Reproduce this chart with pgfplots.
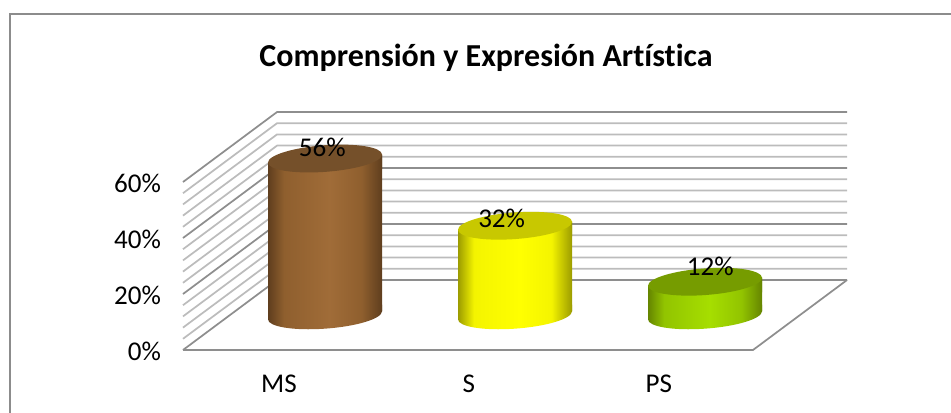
\documentclass[border=0pt]{standalone}
\usepackage{fontspec}
\setmainfont[Ligatures=NoCommon]{Carlito}
\usepackage{pgfplots}
\usepackage{pgfplotstable}
\pgfplotsset{compat=1.18}

% one drawing unit is 0.75pt
\newcommand\chartfont{\fontsize{20.3}{24}\selectfont}

\definecolor{brownD}{HTML}{5F3E1E}
\definecolor{brownM}{HTML}{8F5F2E}
\definecolor{brownL}{HTML}{A06C38}
\definecolor{brownT}{HTML}{75502A}
\definecolor{yellowD}{HTML}{9C9C00}
\definecolor{yellowM}{HTML}{F4F400}
\definecolor{yellowL}{HTML}{FFFF00}
\definecolor{yellowT}{HTML}{C8C800}
\definecolor{greenD}{HTML}{658500}
\definecolor{greenM}{HTML}{92C400}
\definecolor{greenL}{HTML}{A6DE00}
\definecolor{greenT}{HTML}{769C00}
\definecolor{wallmajor}{HTML}{8E8E8E}
\definecolor{wallminor}{HTML}{BCBCBC}

% body shadings: the part between 25bp and 75bp spans the width of the column
\pgfdeclarehorizontalshading{brownbody}{100bp}{
  color(0bp)=(brownD); color(25bp)=(brownD); color(32bp)=(brownM);
  color(52bp)=(brownL); color(66bp)=(brownM); color(75bp)=(brownD); color(100bp)=(brownD)}
\pgfdeclarehorizontalshading{yellowbody}{100bp}{
  color(0bp)=(yellowD); color(25bp)=(yellowD); color(32bp)=(yellowM);
  color(52bp)=(yellowL); color(66bp)=(yellowM); color(75bp)=(yellowD); color(100bp)=(yellowD)}
\pgfdeclarehorizontalshading{greenbody}{100bp}{
  color(0bp)=(greenD); color(25bp)=(greenD); color(32bp)=(greenM);
  color(52bp)=(greenL); color(66bp)=(greenM); color(75bp)=(greenD); color(100bp)=(greenD)}

% end caps of a column; the ellipse rises to the right, following the view of the floor
\newcommand\declarecylinder[2]{%
  \pgfdeclareplotmark{#1base}{%
    \path[shade,shading=#1body,draw=none] (-42.75pt,8pt) -- (-42.75pt,-3pt)
      .. controls (-42.75pt,-8.52pt) and (-23.6pt,-11.65pt) .. (0pt,-10pt)
      .. controls (23.6pt,-8.35pt) and (42.75pt,-2.52pt) .. (42.75pt,3pt)
      -- (42.75pt,8pt) -- cycle;}%
  \pgfdeclareplotmark{#1top}{%
    \path[shade,shading=#1body,draw=none] (-42.75pt,-8pt) -- (-42.75pt,-3pt)
      -- (42.75pt,3pt) -- (42.75pt,-8pt) -- cycle;
    \path[fill=#2,draw=none] (-42.75pt,-3pt)
      .. controls (-42.75pt,2.52pt) and (-23.6pt,8.35pt) .. (0pt,10pt)
      .. controls (23.6pt,11.65pt) and (42.75pt,8.52pt) .. (42.75pt,3pt)
      .. controls (42.75pt,-2.52pt) and (23.6pt,-8.35pt) .. (0pt,-10pt)
      .. controls (-23.6pt,-11.65pt) and (-42.75pt,-8.52pt) .. (-42.75pt,-3pt) -- cycle;}%
}
\declarecylinder{brown}{brownT}
\declarecylinder{yellow}{yellowT}
\declarecylinder{green}{greenT}

\pgfplotstableread{
x v dx dy
0 56 -2 8.5
1 32 -10 5.5
2 12 4 11.5
}\datalabels

\begin{document}
\begin{tikzpicture}
  \useasboundingbox (0,0) rectangle (713.25pt,309pt);
  \draw[color=black!45,line width=1.1pt] (7.5pt,-1pt) -- (7.5pt,298.5pt) -- (714pt,298.5pt);
  \node[font=\fontsize{24}{28}\bfseries\selectfont] at (364.5pt,266pt) {Comprensión y Expresión Artística};

  % front plane: side wall, back wall and floor, with the axis labels
  \begin{axis}[
    at={(137.25pt,46.5pt)},anchor=south west,
    scale only axis,width=427.5pt,height=126pt,
    xmin=-0.5,xmax=2.5,ymin=0,ymax=60,clip=false,
    axis line style={draw=none},major tick length=0pt,tick style={draw=none},
    xtick={0,1,2},xticklabels={MS,S,PS},
    ytick={0,20,40,60},
    yticklabel={\pgfmathprintnumber{\tick}\%},
    /pgf/number format/assume math mode=true,
    ticklabel style={font=\chartfont},
    yticklabel style={xshift=-13pt,yshift=-0.7pt},
    xticklabel style={yshift=-15.5pt,xshift=0.7pt},
    unbounded coords=jump]
    \addplot[color=wallminor,line width=1.3pt,mark=none] table {
      -0.5 4
      -0.005 29
      2.995 29
      nan nan
      -0.5 8
      -0.005 33
      2.995 33
      nan nan
      -0.5 12
      -0.005 37
      2.995 37
      nan nan
      -0.5 16
      -0.005 41
      2.995 41
      nan nan
      -0.5 24
      -0.005 49
      2.995 49
      nan nan
      -0.5 28
      -0.005 53
      2.995 53
      nan nan
      -0.5 32
      -0.005 57
      2.995 57
      nan nan
      -0.5 36
      -0.005 61
      2.995 61
      nan nan
      -0.5 44
      -0.005 69
      2.995 69
      nan nan
      -0.5 48
      -0.005 73
      2.995 73
      nan nan
      -0.5 52
      -0.005 77
      2.995 77
      nan nan
      -0.5 56
      -0.005 81
      2.995 81
    };
    \addplot[color=wallmajor,line width=1.3pt,mark=none] table {
      -0.5 0
      -0.005 25
      2.995 25
      nan nan
      -0.5 20
      -0.005 45
      2.995 45
      nan nan
      -0.5 40
      -0.005 65
      2.995 65
      nan nan
      -0.5 60
      -0.005 85
      2.995 85
      nan nan
      -0.5 0
      2.5 0
      2.995 25
    };
  \end{axis}

  % middle plane of the floor: the columns stand here;
  % each body runs from the sloped chord at height 0 to the same chord at its value
  \begin{axis}[
    at={(172.5pt,72.5pt)},anchor=south west,
    scale only axis,width=427.5pt,height=126pt,
    xmin=-0.5,xmax=2.5,ymin=0,ymax=60,clip=false,
    hide axis]
    \addplot[shade,shading=brownbody,draw=none]
      coordinates {(-0.3,-1.43) (-0.3,54.57) (0.3,57.43) (0.3,1.43)} -- cycle;
    \addplot[only marks,mark=brownbase] coordinates {(0,0)};
    \addplot[only marks,mark=browntop] coordinates {(0,56)};
    \addplot[shade,shading=yellowbody,draw=none]
      coordinates {(0.7,-1.43) (0.7,30.57) (1.3,33.43) (1.3,1.43)} -- cycle;
    \addplot[only marks,mark=yellowbase] coordinates {(1,0)};
    \addplot[only marks,mark=yellowtop] coordinates {(1,32)};
    \addplot[shade,shading=greenbody,draw=none]
      coordinates {(1.7,-1.43) (1.7,10.57) (2.3,13.43) (2.3,1.43)} -- cycle;
    \addplot[only marks,mark=greenbase] coordinates {(2,0)};
    \addplot[only marks,mark=greentop] coordinates {(2,12)};
    \addplot[only marks,mark=none,
      visualization depends on={\thisrow{dx} \as \labeldx},
      visualization depends on={\thisrow{dy} \as \labeldy},
      /pgf/number format/assume math mode=true,
      point meta=y,
      nodes near coords={\pgfmathprintnumber{\pgfplotspointmeta}\%},
      every node near coord/.style={anchor=center,font=\chartfont,
        xshift=\labeldx pt,yshift=\labeldy pt}]
      table[x=x,y=v] {\datalabels};
  \end{axis}
\end{tikzpicture}
\end{document}
